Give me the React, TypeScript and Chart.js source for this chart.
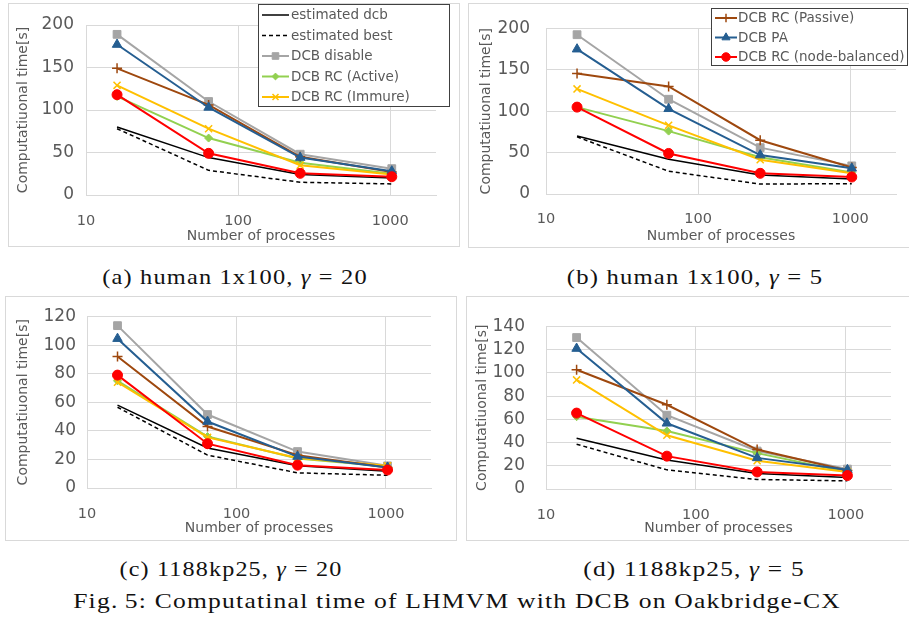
import React, { useEffect, useLayoutEffect, useRef, useState } from 'react';
import { Chart, registerables } from 'chart.js';
import { drawPoint } from 'chart.js/helpers';

Chart.register(...registerables);

// ---------------- data ----------------
const processes = [16, 64, 256, 1024];
const xTickValues = [10, 100, 1000];
const xAxisTitle = 'Number of processes';
const yAxisTitle = 'Computatiuonal time[s]';
const seriesNames = [
  'estimated dcb',
  'estimated best',
  'DCB disable',
  'DCB RC (Active)',
  'DCB RC (Immure)',
  'DCB RC (Passive)',
  'DCB PA',
  'DCB RC (node-balanced)',
];

// (a) human 1x100, gamma = 20
const aEstDcb = [80, 44, 24, 20];
const aEstBest = [78, 29, 15, 13];
const aDisable = [189, 110, 48, 31];
const aActive = [116, 67, 38, 25];
const aImmure = [129, 78, 35, 24];
const aPassive = [149, 106, 45, 27];
const aPA = [177, 103, 44, 28];
const aNode = [118, 49, 25.5, 21.5];

// (b) human 1x100, gamma = 5
const bEstDcb = [70, 42, 23, 18];
const bEstBest = [69, 27.5, 12, 12.5];
const bDisable = [192.5, 114.5, 56, 34];
const bActive = [105, 76, 44.5, 26];
const bImmure = [127, 83, 41.5, 25];
const bPassive = [145.5, 130, 65, 32];
const bPA = [175, 103, 47, 31];
const bNode = [105, 49, 25, 20.5];

// (c) 1188kp25, gamma = 20
const cEstDcb = [58, 28, 15.5, 11.7];
const cEstBest = [56.5, 23, 10.6, 8.9];
const cDisable = [113.6, 51.4, 25.5, 15.5];
const cActive = [75, 36, 20.6, 15];
const cImmure = [74, 35.4, 21, 15.5];
const cPassive = [92, 43, 23, 14.4];
const cPA = [104.5, 46.5, 22, 14.4];
const cNode = [79, 31, 16, 12.6];

// (d) 1188kp25, gamma = 5
const dEstDcb = [43.7, 25, 13.4, 10];
const dEstBest = [38.6, 16.5, 8.2, 7];
const dDisable = [130.5, 63.6, 32.7, 17.2];
const dActive = [62.3, 50, 30.9, 14.7];
const dImmure = [94, 46.3, 24.4, 14.7];
const dPassive = [102.7, 72.6, 34, 16];
const dPA = [121, 56.6, 26.8, 16.5];
const dNode = [65.4, 28.3, 14.7, 11.6];

// ---------------- styles ----------------
const TEXT = '#595959';
const GRID = '#d9d9d9';
const FONT = "'DejaVu Sans', sans-serif";

const seriesStyles = [
  { color: '#000000', width: 1.5, dash: [], point: null, radius: 0, pbw: 1 },
  { color: '#000000', width: 1.5, dash: [4, 3], point: null, radius: 0, pbw: 1 },
  { color: '#A5A5A5', width: 2, dash: [], point: 'rect', radius: 5.5, pbw: 1 },
  { color: '#92D050', width: 2, dash: [], point: 'rectRot', radius: 4, pbw: 1 },
  { color: '#FFC000', width: 2, dash: [], point: 'crossRot', radius: 5, pbw: 1.5 },
  { color: '#9E480E', width: 2, dash: [], point: 'cross', radius: 5, pbw: 1.5 },
  { color: '#255E91', width: 2, dash: [], point: 'triangle', radius: 5.5, pbw: 1 },
  { color: '#FF0000', width: 2, dash: [], point: 'circle', radius: 5, pbw: 1 },
];

const panels = [
  {
    key: 'a',
    series: [aEstDcb, aEstBest, aDisable, aActive, aImmure, aPassive, aPA, aNode],
    box: { left: 8, top: 3, w: 452, h: 244 },
    area: { l: 77, r: 427, t: 21, b: 191 },
    yMax: 200, yStep: 50, yTickPad: 12, xTickPad: 17.5, yTitlePad: 6, xTitlePad: 1.6,
    legend: { x: 249, y: 0, w: 192, h: 103, first: 11, rowH: 20.5, s0: 4, s1: 31, tx: 33, items: [0, 1, 2, 3, 4] },
  },
  {
    key: 'b',
    series: [bEstDcb, bEstBest, bDisable, bActive, bImmure, bPassive, bPA, bNode],
    box: { left: 468, top: 3, w: 443, h: 245 },
    area: { l: 77, r: 427, t: 9, b: 190 },
    yMax: 200, yStep: 50, yTickPad: 16, xTickPad: 17, yTitlePad: 8.6, xTitlePad: 2.6,
    legend: { x: 242, y: 4, w: 197, h: 58, first: 10, rowH: 19.5, s0: 4, s1: 26, tx: 27, items: [5, 6, 7] },
  },
  {
    key: 'c',
    series: [cEstDcb, cEstBest, cDisable, cActive, cImmure, cPassive, cPA, cNode],
    box: { left: 5, top: 296, w: 452, h: 245 },
    area: { l: 81, r: 425, t: 11, b: 191 },
    yMax: 120, yStep: 20, yTickPad: 11, xTickPad: 18, yTitlePad: 9, xTitlePad: 3.6,
    legend: null,
  },
  {
    key: 'd',
    series: [dEstDcb, dEstBest, dDisable, dActive, dImmure, dPassive, dPA, dNode],
    box: { left: 466, top: 296, w: 445, h: 245 },
    area: { l: 79, r: 424, t: 11, b: 192 },
    yMax: 140, yStep: 20, yTickPad: 21, xTickPad: 18, yTitlePad: 7, xTitlePad: 3.6,
    legend: null,
  },
];

const captions = [
  { html: <>(a) human 1x100, <i>γ</i> = 20</>, cx: 235, cy: 277, w: 266 },
  { html: <>(b) human 1x100, <i>γ</i> = 5</>, cx: 695, cy: 277, w: 256 },
  { html: <>(c) 1188kp25, <i>γ</i> = 20</>, cx: 231, cy: 569, w: 223 },
  { html: <>(d) 1188kp25, <i>γ</i> = 5</>, cx: 694, cy: 569, w: 222 },
  { html: <>Fig.&#8201;5: Computatinal time of LHMVM with DCB on Oakbridge-CX</>, cx: 457, cy: 601, w: 768 },
];

// ---------------- legend plugin ----------------
const boxLegend = {
  id: 'boxLegend',
  afterDraw(chart: any) {
    const lg = chart.config.options.__legend;
    if (!lg) return;
    const ctx = chart.ctx;
    ctx.save();
    ctx.fillStyle = '#ffffff';
    ctx.fillRect(lg.x, lg.y, lg.w, lg.h);
    ctx.strokeStyle = '#404040';
    ctx.lineWidth = 1;
    ctx.strokeRect(lg.x + 0.5, lg.y + 0.5, lg.w - 1, lg.h - 1);
    lg.items.forEach((di: number, k: number) => {
      const ds = chart.data.datasets[di];
      const cy = lg.y + lg.first + k * lg.rowH;
      ctx.save();
      ctx.strokeStyle = ds.borderColor;
      ctx.lineWidth = ds.borderWidth;
      ctx.setLineDash(ds.borderDash || []);
      ctx.beginPath();
      ctx.moveTo(lg.x + lg.s0, cy);
      ctx.lineTo(lg.x + lg.s1, cy);
      ctx.stroke();
      ctx.setLineDash([]);
      if (ds.pointRadius > 0) {
        ctx.fillStyle = ds.pointBackgroundColor;
        ctx.strokeStyle = ds.pointBorderColor;
        ctx.lineWidth = ds.pointBorderWidth;
        drawPoint(ctx, { pointStyle: ds.pointStyle, radius: ds.pointRadius * 0.85, borderWidth: ds.pointBorderWidth, rotation: 0 } as any,
          lg.x + (lg.s0 + lg.s1) / 2, cy);
      }
      ctx.restore();
      ctx.fillStyle = TEXT;
      ctx.font = `13.5px ${FONT}`;
      ctx.textBaseline = 'middle';
      ctx.textAlign = 'left';
      ctx.fillText(ds.label, lg.x + lg.tx, cy + 0.5);
    });
    ctx.restore();
  },
};

function Panel({ cfg }: { cfg: any }) {
  const ref = useRef<HTMLCanvasElement>(null);
  const W = cfg.box.w - 2;
  const H = cfg.box.h - 2;
  useEffect(() => {
    if (!ref.current) return;
    const { area } = cfg;
    const datasets = seriesNames.map((name, i) => {
      const st = seriesStyles[i];
      return {
        label: name,
        data: cfg.series[i].map((v: number, j: number) => ({ x: processes[j], y: v })),
        borderColor: st.color,
        backgroundColor: st.color,
        borderWidth: st.width,
        borderDash: st.dash,
        pointStyle: st.point || 'circle',
        pointRadius: st.point ? st.radius : 0,
        pointBackgroundColor: st.color,
        pointBorderColor: st.color,
        pointBorderWidth: st.pbw,
        tension: 0,
        fill: false,
        order: seriesNames.length - i,
      };
    });
    const chart = new Chart(ref.current, {
      type: 'line',
      data: { datasets },
      plugins: [boxLegend],
      options: {
        __legend: cfg.legend,
        responsive: false,
        animation: false,
        events: [],
        layout: { padding: { left: 0, top: area.t, right: W - area.r, bottom: 0 } },
        plugins: { legend: { display: false }, tooltip: { enabled: false } },
        scales: {
          x: {
            type: 'logarithmic',
            min: 10,
            max: 2000,
            afterBuildTicks: (s: any) => { s.ticks = xTickValues.map((v) => ({ value: v })); },
            afterFit: (s: any) => { s.height = H - area.b; },
            ticks: {
              autoSkip: false, maxRotation: 0, padding: cfg.xTickPad, color: TEXT,
              font: { family: FONT, size: 14.5, lineHeight: 1.2 },
              callback: (v: any) => String(v),
            },
            grid: { color: GRID, lineWidth: 1, drawTicks: false },
            border: { color: GRID, width: 1 },
            title: {
              display: true, text: xAxisTitle, color: TEXT,
              font: { family: FONT, size: 14, lineHeight: 1.2 },
              padding: { top: 0, bottom: cfg.xTitlePad },
            },
          },
          y: {
            type: 'linear',
            min: 0,
            max: cfg.yMax,
            afterFit: (s: any) => { s.width = area.l; },
            ticks: {
              stepSize: cfg.yStep, padding: cfg.yTickPad, color: TEXT,
              font: { family: FONT, size: 17, lineHeight: 1 },
            },
            grid: { color: GRID, lineWidth: 1, drawTicks: false },
            border: { display: false },
            title: {
              display: true, text: yAxisTitle, color: TEXT,
              font: { family: FONT, size: 14, lineHeight: 1.2 },
              padding: { top: cfg.yTitlePad, bottom: 0 },
            },
          },
        },
      } as any,
    });
    return () => chart.destroy();
  }, []);
  return (
    <div style={{
      position: 'absolute', left: cfg.box.left, top: cfg.box.top, width: cfg.box.w, height: cfg.box.h,
      border: `1px solid ${GRID}`, boxSizing: 'border-box', background: '#fff',
    }}>
      <canvas ref={ref} width={W} height={H} style={{ display: 'block', width: W, height: H }} />
    </div>
  );
}

function Caption({ c }: { c: any }) {
  const ref = useRef<HTMLSpanElement>(null);
  const [scale, setScale] = useState(1);
  useLayoutEffect(() => {
    if (ref.current) {
      const w = ref.current.offsetWidth;
      if (w > 0) setScale(c.w / w);
    }
  }, []);
  return (
    <div style={{ position: 'absolute', left: c.cx, top: c.cy, transform: 'translate(-50%, -50%)', whiteSpace: 'nowrap' }}>
      <span ref={ref} style={{
        display: 'inline-block', fontFamily: "'Liberation Serif', 'Times New Roman', serif", fontSize: 21,
        fontWeight: 400, letterSpacing: 1, lineHeight: 1,
        color: '#111', transform: `scaleX(${scale})`, transformOrigin: 'center',
      }}>{c.html}</span>
    </div>
  );
}

export default function App() {
  return (
    <div style={{ position: 'fixed', left: 0, top: 0, width: 909, height: 618, overflow: 'hidden', background: '#fff' }}>
      {panels.map((p) => <Panel key={p.key} cfg={p} />)}
      {captions.map((c, i) => <Caption key={i} c={c} />)}
    </div>
  );
}
